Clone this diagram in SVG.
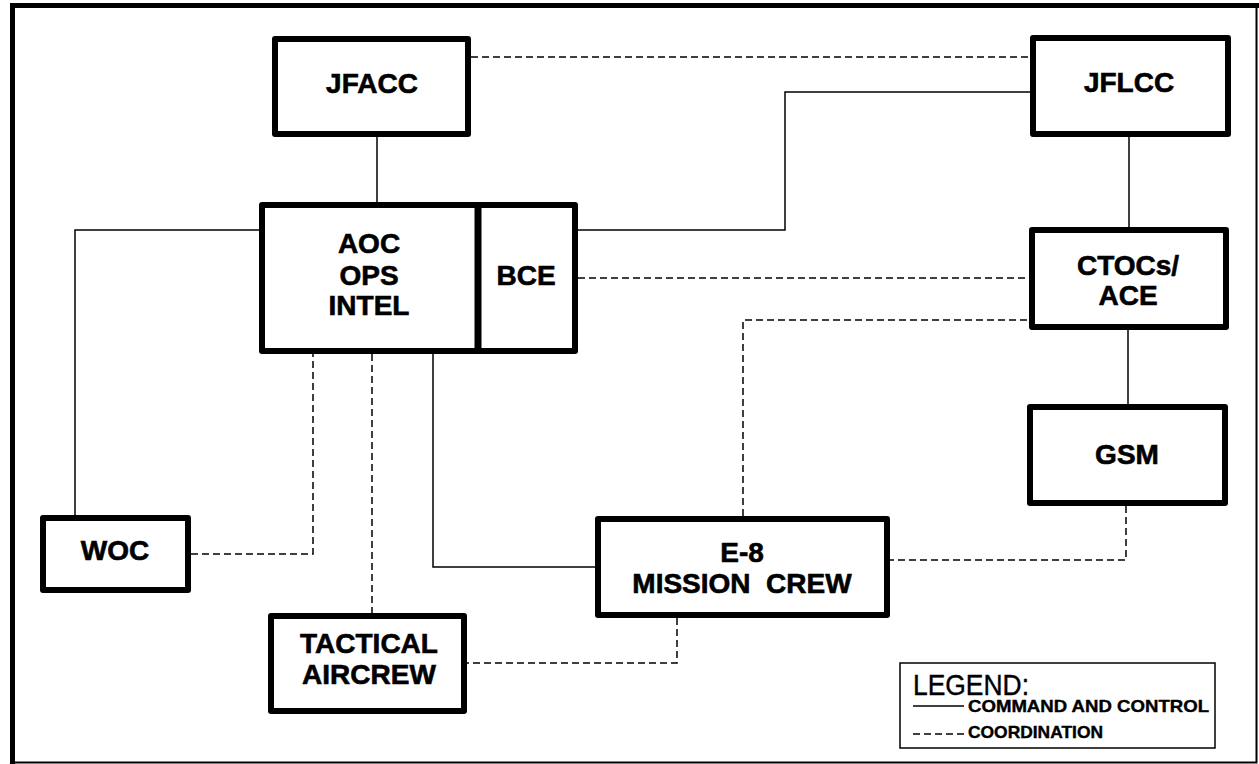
<svg xmlns="http://www.w3.org/2000/svg" width="1259" height="764" viewBox="0 0 1259 764">
<style>
.box{fill:#fff;stroke:#000;stroke-width:6;stroke-linejoin:round}
.lbl{font-family:"Liberation Sans",Arial,sans-serif;font-weight:bold;font-size:28px;text-anchor:middle;fill:#000;stroke:#000;stroke-width:0.6}
.cc{fill:none;stroke:#000;stroke-width:1.5}
.co{fill:none;stroke:#000;stroke-width:1.5;stroke-dasharray:7,4}
.lg{font-family:"Liberation Sans",Arial,sans-serif;fill:#000;stroke:#000;stroke-width:0.4}
</style>
<rect x="0" y="0" width="1259" height="764" fill="#fff"/>
<g id="frame">
<path d="M12.5,764 V5.5 H1259" fill="none" stroke="#000" stroke-width="5"/>
<path d="M1256.5,5 V762.5 H12" fill="none" stroke="#000" stroke-width="2"/>
</g>
<g id="connectors">
<line class="co" x1="471" y1="57" x2="1030" y2="57"/>
<line class="cc" x1="377" y1="137" x2="377" y2="203"/>
<polyline class="cc" points="578,230 785,230 785,92 1030,92"/>
<polyline class="cc" points="259,230 75,230 75,516"/>
<polyline class="co" points="191,554 313,554 313,354"/>
<line class="co" x1="372" y1="354" x2="372" y2="613"/>
<polyline class="cc" points="433,354 433,567 595,567"/>
<polyline class="co" points="677,618 677,663 467,663"/>
<polyline class="co" points="743,516 743,320 1029,320"/>
<line class="co" x1="578" y1="278" x2="1029" y2="278"/>
<line class="cc" x1="1129" y1="137" x2="1129" y2="227"/>
<line class="cc" x1="1128" y1="330" x2="1128" y2="404"/>
<polyline class="co" points="1126,506 1126,560 890,560"/>
</g>
<g id="JFACC">
<rect class="box" x="275" y="39" width="193" height="95"/>
<text class="lbl" x="372" y="93">JFACC</text>
</g>
<g id="JFLCC">
<rect class="box" x="1033" y="38" width="195" height="96"/>
<text class="lbl" x="1129" y="92">JFLCC</text>
</g>
<g id="AOC">
<rect class="box" x="262" y="205" width="313" height="146"/>
<text class="lbl" x="369" y="253">AOC</text>
<text class="lbl" x="369" y="285">OPS</text>
<text class="lbl" x="369" y="315">INTEL</text>
</g>
<g id="BCE">
<line x1="478" y1="205" x2="478" y2="351" stroke="#000" stroke-width="7"/>
<text class="lbl" x="526" y="285">BCE</text>
</g>
<g id="CTOCs">
<rect class="box" x="1032" y="230" width="194" height="97"/>
<text class="lbl" x="1128" y="275">CTOCs/</text>
<text class="lbl" x="1128" y="305">ACE</text>
</g>
<g id="GSM">
<rect class="box" x="1030" y="407" width="195" height="96"/>
<text class="lbl" x="1127" y="464">GSM</text>
</g>
<g id="WOC">
<rect class="box" x="43" y="518" width="145" height="72"/>
<text class="lbl" x="115" y="560">WOC</text>
</g>
<g id="E8">
<rect class="box" x="598" y="519" width="289" height="96"/>
<text class="lbl" x="742" y="562">E-8</text>
<text class="lbl" x="742" y="593" xml:space="preserve">MISSION  CREW</text>
</g>
<g id="TACTICAL">
<rect class="box" x="271" y="616" width="193" height="95"/>
<text class="lbl" x="369" y="653">TACTICAL</text>
<text class="lbl" x="369" y="684">AIRCREW</text>
</g>
<g id="legend">
<rect x="900" y="663" width="315" height="85" fill="#fff" stroke="#000" stroke-width="1.5"/>
<text class="lg" x="913" y="695" font-size="29" textLength="116" lengthAdjust="spacingAndGlyphs">LEGEND:</text>
<line class="cc" x1="913" y1="706" x2="964" y2="706"/>
<text class="lg" x="968" y="712" font-size="17" font-weight="bold" textLength="241" lengthAdjust="spacingAndGlyphs">COMMAND AND CONTROL</text>
<line class="co" x1="913" y1="734" x2="964" y2="734" stroke-dasharray="5,3"/>
<text class="lg" x="968" y="738" font-size="17" font-weight="bold" textLength="135" lengthAdjust="spacingAndGlyphs">COORDINATION</text>
</g>
</svg>
